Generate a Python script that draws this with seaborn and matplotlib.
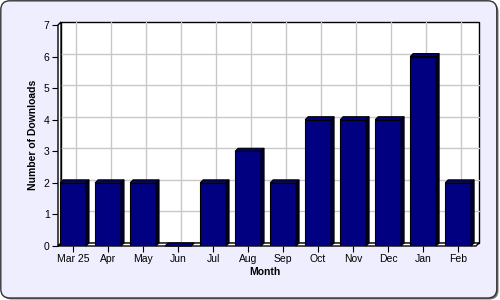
import matplotlib
matplotlib.use("Agg")
import matplotlib.pyplot as plt
import seaborn as sns
import pandas as pd
from matplotlib.patches import Polygon, Rectangle, FancyBboxPatch
from matplotlib.transforms import IdentityTransform

months = ["Mar 25", "Apr", "May", "Jun", "Jul", "Aug", "Sep", "Oct", "Nov", "Dec", "Jan", "Feb"]
downloads = [2, 2, 2, 0, 2, 3, 2, 4, 4, 4, 6, 2]
y_ticks = [0, 1, 2, 3, 4, 5, 6, 7]

sns.set_theme(style="white")
plt.rcParams['font.family'] = ['Liberation Sans', 'DejaVu Sans']

W, H = 500, 300
fig = plt.figure(figsize=(5, 3), dpi=100)
fig.patch.set_alpha(0)

# figure frame (pixel coordinates)
shadow = FancyBboxPatch((2.5, 0.5), 496, 297, boxstyle="round,pad=0,rounding_size=9",
                        transform=IdentityTransform(), facecolor="#777777", edgecolor="none",
                        zorder=-3)
frame = FancyBboxPatch((0.8, 2.0), 496, 297.2, boxstyle="round,pad=0,rounding_size=9",
                       transform=IdentityTransform(), facecolor="#EEEEFF", edgecolor="#333333",
                       linewidth=1.0, zorder=-2)
fig.patches.extend([shadow, frame])

x_left, x_right = 58, 476
y_top, y_bot = 25, 246
ax = fig.add_axes([x_left / W, (H - y_bot) / H, (x_right - x_left) / W, (y_bot - y_top) / H])
ax.patch.set_alpha(0)

df = pd.DataFrame({"Month": months, "Downloads": downloads})
sns.barplot(data=df, x="Month", y="Downloads", color="#000080", width=0.74,
            edgecolor="black", linewidth=0.8, saturation=1, ax=ax, zorder=3)

xmin, xmax = -0.43, 11.51
ymin, ymax = 0, 7
ax.set_xlim(xmin, xmax)
ax.set_ylim(ymin, ymax)

d = 3.0
ppx = (x_right - x_left) / (xmax - xmin)
ppy = (y_bot - y_top) / (ymax - ymin)
dx, dy = d / ppx, d / ppy

bars = [p for p in ax.patches if isinstance(p, Rectangle)]

# back wall
ax.add_patch(Rectangle((xmin + dx, ymin + dy), xmax - xmin, ymax - ymin, facecolor="white",
                       edgecolor="black", linewidth=1, clip_on=False, zorder=0))
for yt in y_ticks[1:-1]:
    ax.plot([xmin + dx, xmax + dx], [yt + dy, yt + dy], color="#c8c8c8", lw=1, clip_on=False, zorder=1)
for i in range(len(months)):
    ax.plot([i + dx, i + dx], [ymin + dy, ymax + dy], color="#c8c8c8", lw=1, clip_on=False, zorder=1)
# floor and left wall
ax.add_patch(Polygon([(xmin, 0), (xmax, 0), (xmax + dx, dy), (xmin + dx, dy)], closed=True,
                     facecolor="white", edgecolor="black", lw=1, clip_on=False, zorder=2))
ax.add_patch(Polygon([(xmin, 0), (xmin + dx, dy), (xmin + dx, ymax + dy), (xmin, ymax)], closed=True,
                     facecolor="white", edgecolor="black", lw=1, clip_on=False, zorder=2))

# 3D faces of bars
for p in bars:
    x0 = p.get_x()
    x1 = x0 + p.get_width()
    h = p.get_height()
    ax.add_patch(Polygon([(x1, 0), (x1 + dx, dy), (x1 + dx, h + dy), (x1, h)], closed=True,
                         facecolor="#000030", edgecolor="black", lw=0.8, clip_on=False, zorder=3))
    ax.add_patch(Polygon([(x0, h), (x1, h), (x1 + dx, h + dy), (x0 + dx, h + dy)], closed=True,
                         facecolor="#000080", edgecolor="black", lw=0.8, clip_on=False, zorder=4))

for s in ax.spines.values():
    s.set_visible(False)
ax.set_yticks(y_ticks)
ax.set_xticks(range(len(months)))
ax.set_xticklabels(months)
ax.tick_params(axis="both", which="both", direction="out", length=4, width=0.8, color="black",
               labelsize=7.5, labelcolor="black", pad=2, left=True, bottom=True)
ax.set_xlabel("")
ax.set_ylabel("")
ax.grid(False)

fig.text(33 / W, 1 - 135 / H, "Number of Downloads", rotation=90, ha="center", va="center",
         fontsize=7.5, fontweight="bold", color="black")
fig.text(265 / W, 1 - 272 / H, "Month", ha="center", va="center",
         fontsize=7.5, fontweight="bold", color="black")

fig.savefig("out.png", dpi=100)
